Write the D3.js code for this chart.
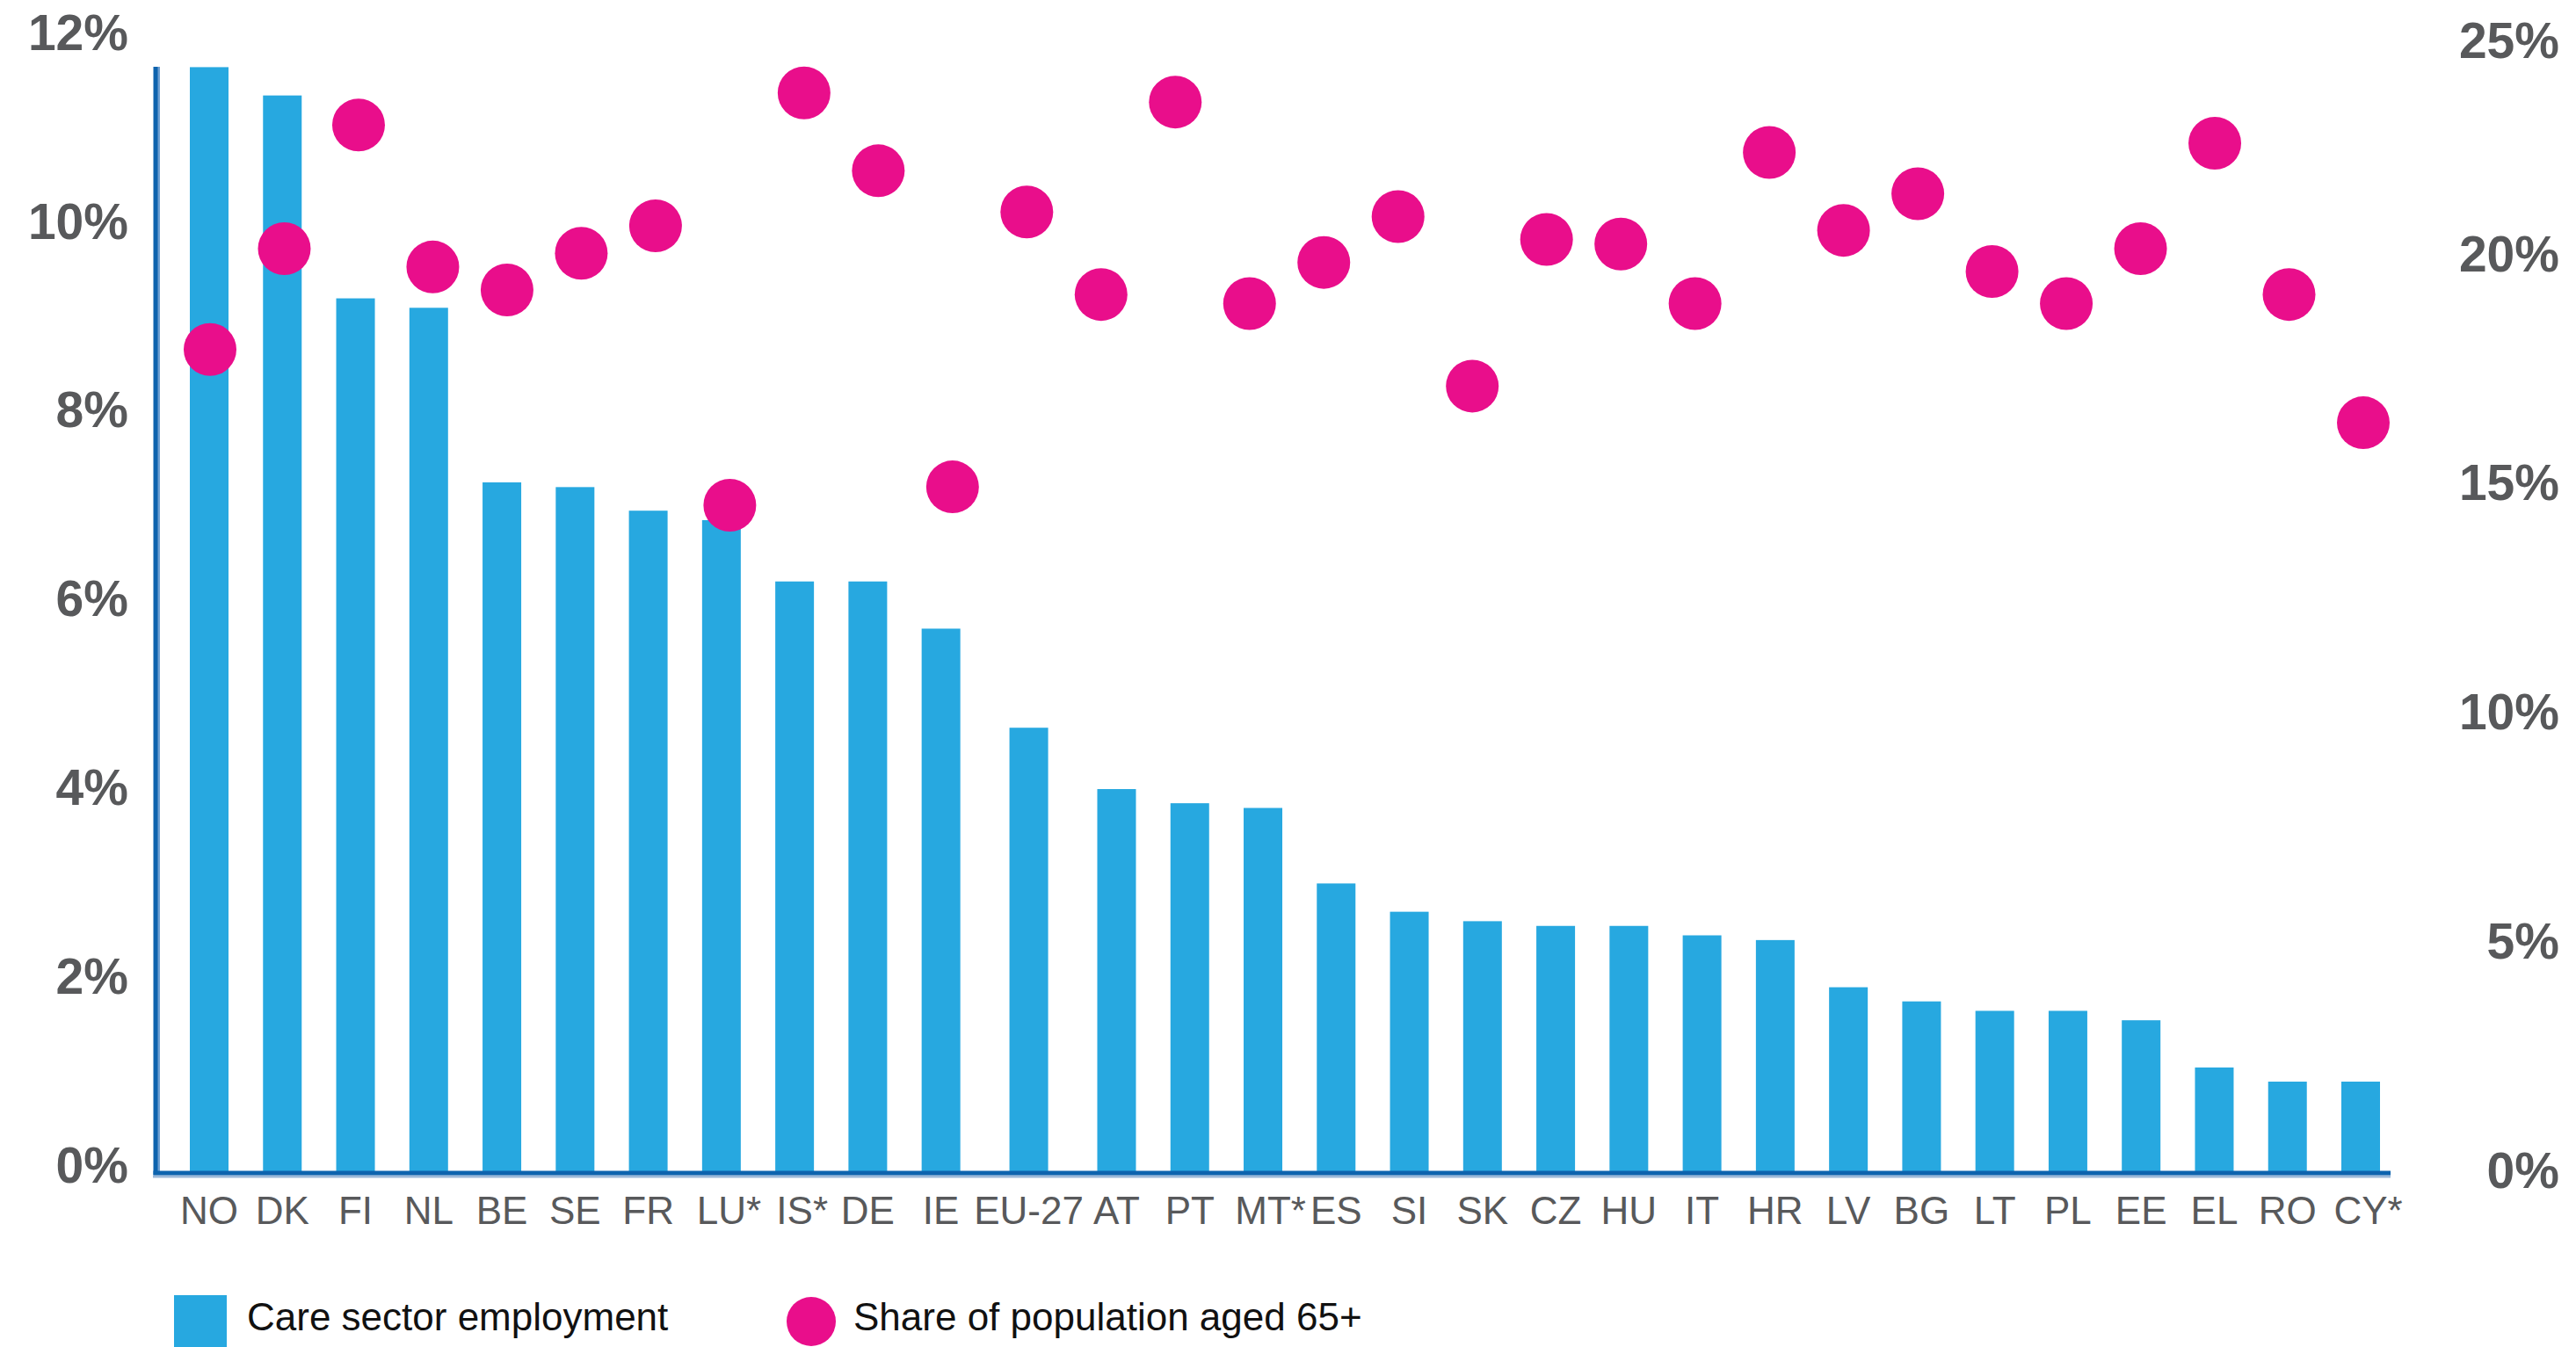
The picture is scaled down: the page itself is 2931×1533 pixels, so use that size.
<!DOCTYPE html>
<html>
<head>
<meta charset="utf-8">
<script src="https://cdn.jsdelivr.net/npm/d3@7"></script>
<style>
  html, body { margin: 0; padding: 0; background: #ffffff; }
  svg { display: block; }
  text { font-family: "Liberation Sans", Arial, Helvetica, sans-serif; }
</style>
</head>
<body>
<svg id="chart" width="2931" height="1533"></svg>
<script>
// Countries, EU-27 aggregate placed between IE and AT
const categories = ["NO", "DK", "FI", "NL", "BE", "SE", "FR", "LU*", "IS*", "DE", "IE", "EU-27",
  "AT", "PT", "MT*", "ES", "SI", "SK", "CZ", "HU", "IT", "HR", "LV", "BG", "LT", "PL", "EE",
  "EL", "RO", "CY*"];

// Care sector employment, % of total employment (left axis)
const careEmployment = [11.7, 11.4, 9.25, 9.15, 7.3, 7.25, 7.0, 6.9, 6.25, 6.25, 5.75, 4.7,
  4.05, 3.9, 3.85, 3.05, 2.75, 2.65, 2.6, 2.6, 2.5, 2.45, 1.95, 1.8, 1.7, 1.7, 1.6,
  1.1, 0.95, 0.95];

// Share of population aged 65+, % (right axis)
const aged65 = [17.9, 20.1, 22.8, 19.7, 19.2, 20.0, 20.6, 14.5, 23.5, 21.8, 14.9, 20.9,
  19.1, 23.3, 18.9, 19.8, 20.8, 17.1, 20.3, 20.2, 18.9, 22.2, 20.5, 21.3, 19.6, 18.9, 20.1,
  22.4, 19.1, 16.3];

const leftTicks = [0, 2, 4, 6, 8, 10, 12];
const rightTicks = [0, 5, 10, 15, 20, 25];

const seriesNames = ["Care sector employment", "Share of population aged 65+"];

const BAR_COLOR = "#27a8e0";
const DOT_COLOR = "#e90e8b";
const AXIS_COLOR = "#0d63ae";
const TICK_COLOR = "#58595b";

const svg = d3.select("#chart");

// Plot frame
const axisX = 177;
const axisTop = 76;
const baseY = 1333;
const axisRight = 2720;

// Bars: slot positions with a little extra room on both sides of the EU-27 bar
const GAP = 0.2;
const euIdx = categories.indexOf("EU-27");
const slots = categories.map((c, i) => i + (i >= euIdx ? GAP : 0) + (i > euIdx ? GAP : 0));
const xBar = d3.scaleLinear().domain([0, d3.max(slots)]).range([238, 2686]);
const barWidth = 44;

// Markers: evenly spaced across the categories
const xDot = d3.scalePoint().domain(categories).range([239, 2689]);

const yLeft = d3.scaleLinear().domain([0, 12]).range([baseY, baseY - 12 * 107.4]);
const yRight = d3.scaleLinear().domain([0, 25]).range([1331, 1331 - 25 * 52.14]);

// Bars
svg.append("g")
  .selectAll("rect")
  .data(categories)
  .join("rect")
  .attr("x", (d, i) => xBar(slots[i]) - barWidth / 2)
  .attr("y", (d, i) => yLeft(careEmployment[i]))
  .attr("width", barWidth)
  .attr("height", (d, i) => yLeft(0) - yLeft(careEmployment[i]))
  .attr("fill", BAR_COLOR);

// Axis lines
const axes = svg.append("g");
axes.append("line")
  .attr("x1", axisX + 3.5).attr("x2", axisX + 3.5)
  .attr("y1", axisTop).attr("y2", baseY + 2)
  .attr("stroke", "#6d9fd1").attr("stroke-width", 3);
axes.append("line")
  .attr("x1", axisX - 3).attr("x2", axisRight)
  .attr("y1", baseY + 6).attr("y2", baseY + 6)
  .attr("stroke", "#9bb8d8").attr("stroke-width", 3);
axes.append("line")
  .attr("x1", axisX).attr("x2", axisX)
  .attr("y1", axisTop).attr("y2", baseY + 4)
  .attr("stroke", AXIS_COLOR).attr("stroke-width", 5);
axes.append("line")
  .attr("x1", axisX - 2.5).attr("x2", axisRight)
  .attr("y1", baseY + 2).attr("y2", baseY + 2)
  .attr("stroke", AXIS_COLOR).attr("stroke-width", 5);

// Markers
svg.append("g")
  .selectAll("circle")
  .data(categories)
  .join("circle")
  .attr("cx", d => xDot(d))
  .attr("cy", (d, i) => yRight(aged65[i]))
  .attr("r", 30)
  .attr("fill", DOT_COLOR);

// Left axis tick labels
svg.append("g")
  .selectAll("text")
  .data(leftTicks)
  .join("text")
  .attr("x", 146)
  .attr("y", d => yLeft(d) - 8)
  .attr("dy", "0.36em")
  .attr("text-anchor", "end")
  .attr("font-size", 57)
  .attr("font-weight", "bold")
  .attr("fill", TICK_COLOR)
  .text(d => d + "%");

// Right axis tick labels (the top one is kept inside the canvas)
svg.append("g")
  .selectAll("text")
  .data(rightTicks)
  .join("text")
  .attr("x", 2912)
  .attr("y", d => Math.max(yRight(d), 45))
  .attr("dy", "0.36em")
  .attr("text-anchor", "end")
  .attr("font-size", 57)
  .attr("font-weight", "bold")
  .attr("fill", TICK_COLOR)
  .text(d => d + "%");

// Category labels: the country code is centred under its bar, footnote marks trail it
const labels = svg.append("g")
  .selectAll("text")
  .data(categories)
  .join("text")
  .attr("y", 1393)
  .attr("font-size", 44)
  .attr("fill", TICK_COLOR)
  .attr("text-anchor", "start")
  .text(d => d);
labels.each(function (d, i) {
  const base = d.replace("*", "");
  const w = this.getSubStringLength(0, base.length);
  d3.select(this).attr("x", xBar(slots[i]) - w / 2);
});

// Legend
const legend = svg.append("g");
legend.append("rect")
  .attr("x", 198).attr("y", 1474)
  .attr("width", 60).attr("height", 59)
  .attr("fill", BAR_COLOR);
legend.append("text")
  .attr("x", 281).attr("y", 1514)
  .attr("font-size", 44)
  .attr("fill", "#111111")
  .text(seriesNames[0]);
legend.append("circle")
  .attr("cx", 923).attr("cy", 1504)
  .attr("r", 28)
  .attr("fill", DOT_COLOR);
legend.append("text")
  .attr("x", 971).attr("y", 1514)
  .attr("font-size", 44)
  .attr("fill", "#111111")
  .text(seriesNames[1]);
</script>
</body>
</html>
